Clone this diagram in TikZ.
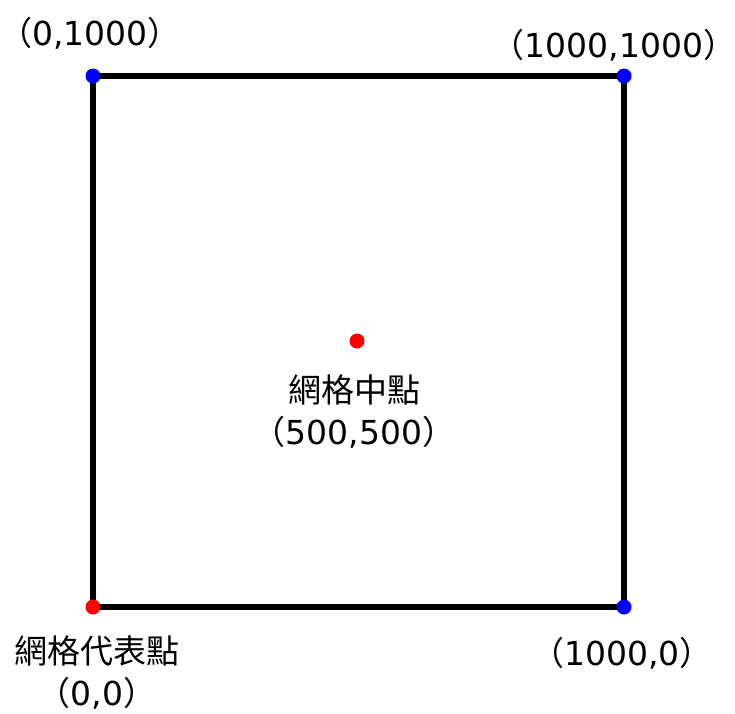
\documentclass[tikz,border=0pt]{standalone}
\usepackage{fontspec}
\setmainfont{Noto Sans CJK TC}
\newfontfamily\numfont{DejaVu Sans}
\newcommand{\nm}[1]{{\numfont #1}}
\begin{document}
\begin{tikzpicture}[x=1pt,y=-1pt,
  lbl/.style={inner sep=0pt,font=\fontsize{33}{42}\selectfont,align=center},
  bdot/.style={circle,fill=blue,inner sep=0pt,minimum size=15pt},
  rdot/.style={circle,fill=red,inner sep=0pt,minimum size=15pt}]
\useasboundingbox (0,0) rectangle (735,713);
\coordinate (A) at (93,607);
\coordinate (B) at (624,607);
\coordinate (C) at (624,76);
\coordinate (D) at (93,76);
\draw[line width=5.5pt] (A) -- (B) -- (C) -- (D) -- cycle;
\node[rdot] (pa) at (A) {};
\node[bdot] (pb) at (B) {};
\node[bdot] (pc) at (C) {};
\node[bdot] (pd) at (D) {};
\node[rdot] (pm) at (357,341) {};
\node[lbl] (ld) at (90,33) {（\nm{0,1000}）};
\node[lbl] (lc) at (614,45) {（\nm{1000,1000}）};
\node[lbl] (lb) at (622,653) {（\nm{1000,0}）};
\node[lbl] (lm) at (354,412) {網格中點\\（\nm{500,500}）};
\node[lbl] (la) at (97,673) {網格代表點\\（\nm{0,0}）};
\end{tikzpicture}
\end{document}
